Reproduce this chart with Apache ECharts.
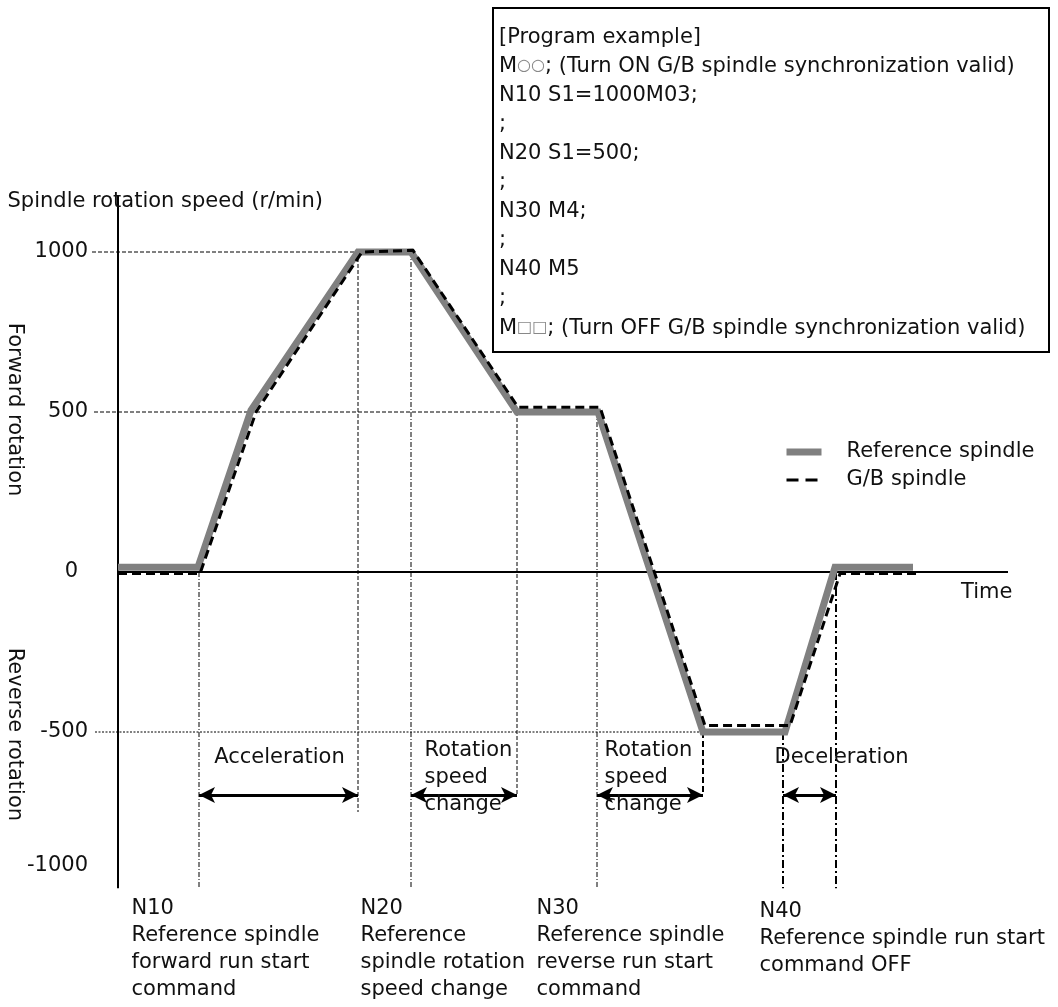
<!DOCTYPE html>
<html><head><meta charset="utf-8">
<script src="https://cdn.jsdelivr.net/npm/echarts@6/dist/echarts.min.js"></script>
<style>html,body{margin:0;padding:0;background:#fff}#c{width:1058px;height:1007px}</style>
</head><body><div id="c"></div>
<script>
// ---------- data (time in arbitrary units, speed in r/min) ----------
const refTime  = [0, 80, 133, 240, 293, 399, 480, 585, 667, 717, 795];
const refSpeed = [15, 15, 505, 1000, 1000, 500, 500, -500, -500, 15, 15];
const gbTime   = [0, 82, 138, 244, 295, 400, 482, 587, 672, 722, 799];
const gbSpeed  = [-5, -5, 500, 1000, 1005, 515, 515, -480, -480, -5, -5];
const yTicks   = [1000, 500, 0, -500, -1000];
// horizontal guides: [speed, fromTime, toTime]
const guideH = [[1000, -26, 240], [500, -24, 399], [-500, -23, 585]];
// vertical guides: [time, fromSpeed, toSpeed]
const guideV = [[81, 0, -988], [240, 1000, -750], [293, 1000, -988], [399, 500, -697],
                [479, 500, -988], [585, -500, -697], [665, -500, -988], [718, 0, -988]];
// double arrows: [fromTime, toTime] at speed level arrowLevel
const spans = [[81, 240], [293, 399], [479, 585], [665, 718]];
const arrowLevel = -697;
const phaseNames = ['Acceleration', 'Rotation\nspeed\nchange', 'Rotation\nspeed\nchange', 'Deceleration'];
const commands = [
  'N10\nReference spindle\nforward run start\ncommand',
  'N20\nReference\nspindle rotation\nspeed change',
  'N30\nReference spindle\nreverse run start\ncommand',
  'N40\nReference spindle run start\ncommand OFF'
];
const programLines = [
  '[Program example]',
  'M{g|○○}; (Turn ON G/B spindle synchronization valid)',
  'N10 S1=1000M03;',
  ';',
  'N20 S1=500;',
  ';',
  'N30 M4;',
  ';',
  'N40 M5',
  ';',
  'M{g|□□}; (Turn OFF G/B spindle synchronization valid)'
];

// ---------- styles ----------
const FONT = 'DejaVu Sans';
const FS = 21;
const INK = '#111';
const hStyles = [
  {color: '#000', width: 1, type: [4, 2]},
  {color: '#000', width: 1, type: [4, 2]},
  {color: '#000', width: 1, type: [2, 1.5]}
];
const vStyles = [
  {color: '#000', width: 1, type: [5, 2, 1, 2]},
  {color: '#000', width: 1, type: [4, 2]},
  {color: '#000', width: 1, type: [5, 2, 1, 2]},
  {color: '#000', width: 1, type: [4, 2]},
  {color: '#000', width: 1, type: [5, 2, 1, 2]},
  {color: '#000', width: 2, type: [6, 3]},
  {color: '#000', width: 2, type: [8, 3, 2, 3]},
  {color: '#000', width: 2, type: [8, 3, 2, 3]}
];

const seg = (name, pts, style, z) => ({
  type: 'line', name, data: pts, symbol: 'none', lineStyle: style, z,
  itemStyle: {color: style.color},
  silent: true, clip: false, animation: false
});

const series = [];
guideH.forEach((g, i) => series.push(seg('h' + i, [[g[1], g[0]], [g[2], g[0]]], hStyles[i], 1)));
guideV.forEach((g, i) => series.push(seg('v' + i, [[g[0], g[1]], [g[0], g[2]]], vStyles[i], 1)));
// axis lines
series.push(seg('yaxis', [[0, -988], [0, 1178]], {color: '#000', width: 2}, 2));
series.push(seg('xaxis', [[0, 0], [890, 0]], {color: '#000', width: 2}, 2));
// main curves
series.push(seg('Reference spindle', refTime.map((t, i) => [t, refSpeed[i]]),
  {color: '#808080', width: 7, cap: 'butt', join: 'miter'}, 3));
series.push(seg('G/B spindle', gbTime.map((t, i) => [t, gbSpeed[i]]),
  {color: '#000', width: 3, type: [9, 5], cap: 'butt', join: 'miter'}, 4));
// arrows
series.push({
  type: 'line', name: 'arrows', data: [], symbol: 'none', silent: true, animation: false, z: 5,
  markLine: {
    silent: true, animation: false, symbol: ['arrow', 'arrow'], symbolSize: [12, 16],
    label: {show: false},
    lineStyle: {color: '#000', width: 3, type: 'solid'},
    data: spans.map(s => [{coord: [s[0], arrowLevel]}, {coord: [s[1], arrowLevel]}])
  }
});

// text annotations
const txt = (t, v, text, align, vAlign, extra) => ({
  value: [t, v],
  label: Object.assign({
    show: true, formatter: text, position: [0, 0], align, verticalAlign: vAlign,
    fontFamily: FONT, fontSize: FS, color: INK, lineHeight: 27
  }, extra || {})
});
const notes = [
  txt(-110, 1156, 'Spindle rotation speed (r/min)', 'left', 'middle'),
  txt(-103, 506, 'Forward rotation', 'center', 'middle', {rotate: -90}),
  txt(-103, -509, 'Reverse rotation', 'center', 'middle', {rotate: -90}),
  txt(162, -581, phaseNames[0], 'center', 'middle'),
  txt(307, -516, phaseNames[1], 'left', 'top'),
  txt(487, -516, phaseNames[2], 'left', 'top'),
  txt(657, -581, phaseNames[3], 'left', 'middle'),
  txt(895, -66, 'Time', 'right', 'middle'),
  txt(14, -1011, commands[0], 'left', 'top'),
  txt(243, -1011, commands[1], 'left', 'top'),
  txt(419, -1011, commands[2], 'left', 'top'),
  txt(642, -1020, commands[3], 'left', 'top')
];
series.push({
  type: 'scatter', name: 'notes', data: notes, symbolSize: 1, silent: true, animation: false,
  clip: false, itemStyle: {color: 'rgba(0,0,0,0)', opacity: 1}, z: 6
});

const chart = echarts.init(document.getElementById('c'), null, {renderer: 'canvas'});
chart.setOption({
  animation: false,
  backgroundColor: '#fff',
  grid: {left: 0, right: 0, top: 92, bottom: -45, containLabel: false, outerBoundsMode: 'none'},
  xAxis: {type: 'value', min: -118, max: 940, show: false, axisLine: {onZero: false}},
  yAxis: {
    type: 'value', min: -1500, max: 1500, interval: 500, position: 'left', offset: -118,
    axisLine: {show: false, onZero: false}, axisTick: {show: false}, splitLine: {show: false},
    axisLabel: {
      margin: 30, fontFamily: FONT, fontSize: FS, color: INK, align: 'right',
      formatter: v => {
        if (!yTicks.includes(v)) return '';
        if (v === -1000) return '{lo|-1000}';
        if (v === 0) return '{z|0}';
        return String(v);
      },
      rich: {
        lo: {padding: [0, 0, 52, 0], fontFamily: FONT, fontSize: FS, color: INK},
        z: {padding: [0, 10, 0, 0], fontFamily: FONT, fontSize: FS, color: INK}
      }
    }
  },
  legend: {
    orient: 'vertical', left: 778, top: 434, itemWidth: 35, itemHeight: 10, itemGap: 2,
    selectedMode: false,
    textStyle: {fontFamily: FONT, fontSize: FS, color: INK, padding: [0, 0, 0, 20], lineHeight: 26},
    data: [
      {name: 'Reference spindle', lineStyle: {width: 7},
       itemStyle: {color: 'rgba(0,0,0,0)', borderColor: 'rgba(0,0,0,0)', borderWidth: 0}},
      {name: 'G/B spindle', lineStyle: {width: 3, type: [12, 7]},
       itemStyle: {color: 'rgba(0,0,0,0)', borderColor: 'rgba(0,0,0,0)', borderWidth: 0}}
    ]
  },
  graphic: [
    {type: 'rect', shape: {x: 493, y: 8, width: 556, height: 344},
     style: {fill: '#fff', stroke: '#000', lineWidth: 2}, z: 100, silent: true},
    {type: 'text', x: 499, y: 22.5, z: 101, silent: true,
     style: {text: programLines.join('\n'), fontFamily: FONT, fontSize: FS, lineHeight: 29.1,
       fill: INK, verticalAlign: 'top', align: 'left',
       rich: {g: {fill: '#888', fontFamily: FONT, fontSize: 16, lineHeight: 29.1}}}}
  ],
  series
});
</script>
</body></html>
